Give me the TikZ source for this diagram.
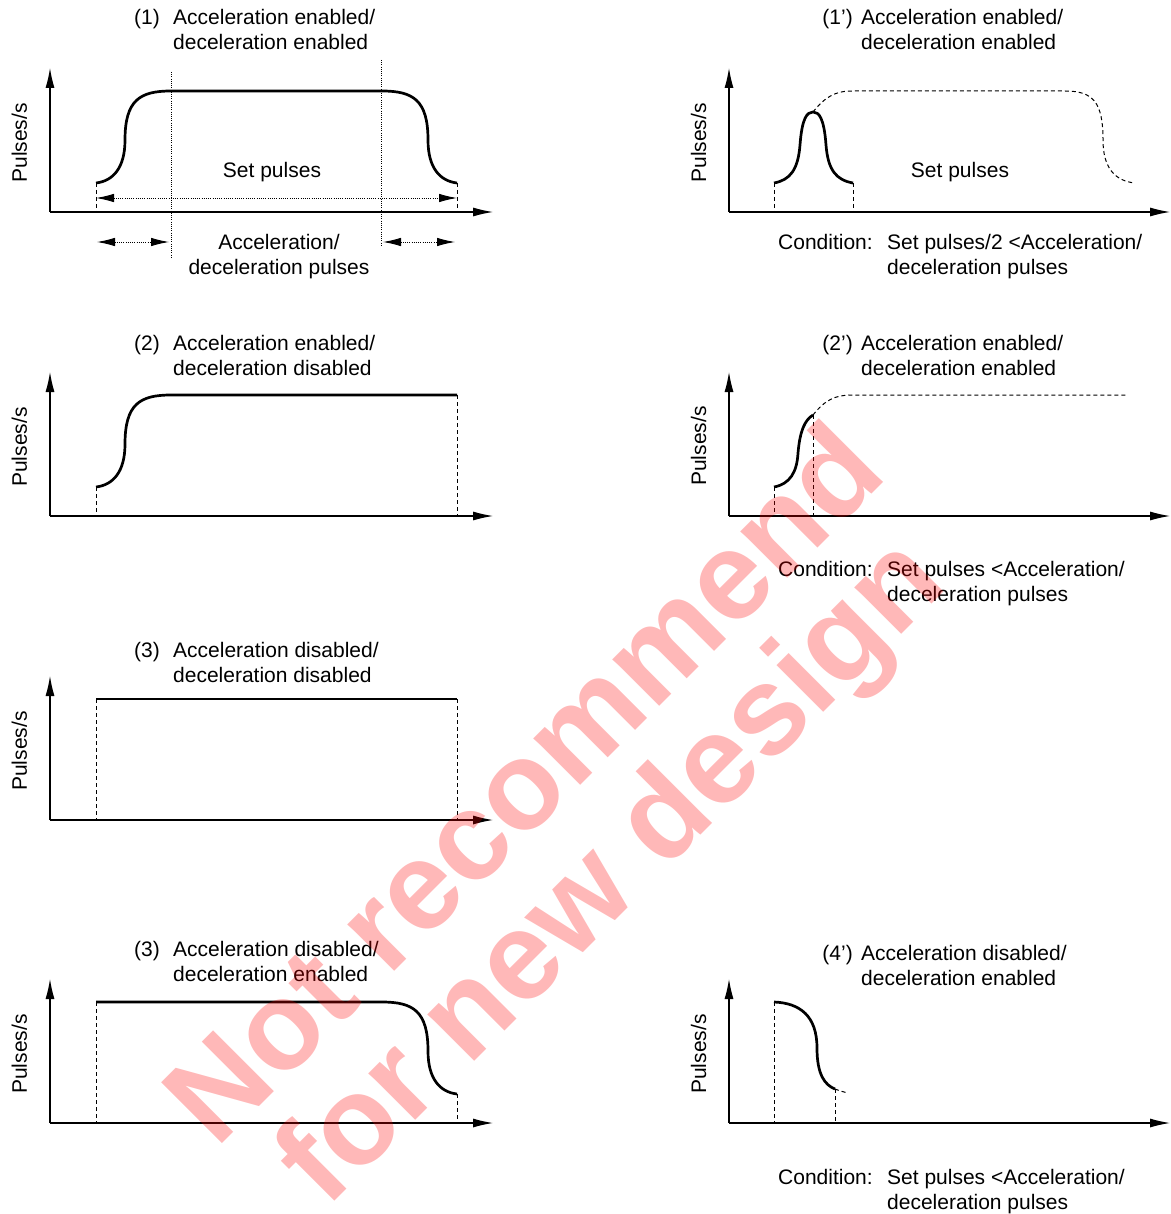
\documentclass[tikz,border=0pt]{standalone}
\usepackage{fontspec}
\setmainfont{Liberation Sans}
\usetikzlibrary{arrows.meta}
\begin{document}
\begin{tikzpicture}[x=1pt,y=-1pt,
  lbl/.style={font=\fontsize{21}{25}\selectfont, inner sep=0pt},
  lw/.style={lbl, anchor=base west},
  le/.style={lbl, anchor=base east},
  lc/.style={lbl, anchor=base},
  ylab/.style={lbl, rotate=90, anchor=base},
  axis/.style={line width=1.1pt, -{Latex[length=20pt,width=9pt]}},
  curve/.style={line width=2.7pt, line join=round},
  dashln/.style={line width=1pt, dash pattern=on 4pt off 3pt},
  dotln/.style={line width=0.9pt, dash pattern=on 1pt off 1.2pt},
  dimarrow/.style={dotln, {Latex[length=18pt,width=8.5pt]}-{Latex[length=18pt,width=8.5pt]}},
  wm/.style={font=\fontsize{125}{125}\selectfont\bfseries, text=red, text opacity=0.28, rotate=45, anchor=base, inner sep=0pt}
]
\useasboundingbox (0,0) rectangle (1170,1214);

% ---------- Panel (1) ----------
\draw[axis] (50,212) -- (50,68);
\draw[axis] (50,212) -- (493,212);
\draw[dotln] (171,72) -- (171,257);
\draw[dotln] (381,60) -- (381,246);
\draw[dashln] (96,183) -- (96,212);
\draw[dashln] (457,183) -- (457,212);
\draw[curve] (96,183) .. controls (113,181) and (125,168) .. (125,140)
  .. controls (125,100) and (140,91) .. (171,91) -- (382,91)
  .. controls (413,91) and (428,100) .. (428,140)
  .. controls (428,168) and (440,181) .. (457,183);
\draw[dimarrow] (96,198) -- (457,198);
\draw[dimarrow] (97,242) -- (169,242);
\draw[dimarrow] (383,242) -- (455,242);
\node[le] (n1) at (160,25) {(1)};
\node[lw] (t1a) at (173,25) {Acceleration enabled/};
\node[lw] (t1b) at (173,50) {deceleration enabled};
\node[ylab] (y1) at (27,143) {Pulses/s};
\node[lc] (sp1) at (272,178) {Set pulses};
\node[lc] (ad1) at (279,250) {Acceleration/};
\node[lc] (ad2) at (279,275) {deceleration pulses};

% ---------- Panel (2) ----------
\draw[axis] (50,516) -- (50,372);
\draw[axis] (50,516) -- (493,516);
\draw[dashln] (96,487) -- (96,516);
\draw[dashln] (457,395) -- (457,516);
\draw[curve] (96,487) .. controls (113,485) and (125,472) .. (125,444)
  .. controls (125,404) and (140,395) .. (171,395) -- (457,395);
\node[le] (n2) at (160,350) {(2)};
\node[lw] (t2a) at (173,350) {Acceleration enabled/};
\node[lw] (t2b) at (173,375) {deceleration disabled};
\node[ylab] (y2) at (27,447) {Pulses/s};

% ---------- Panel (3) ----------
\draw[axis] (50,820) -- (50,676);
\draw[axis] (50,820) -- (493,820);
\draw[dashln] (96,699) -- (96,820);
\draw[dashln] (457,699) -- (457,820);
\draw[curve] (96,699) -- (457,699);
\node[le] (n3) at (160,657) {(3)};
\node[lw] (t3a) at (173,657) {Acceleration disabled/};
\node[lw] (t3b) at (173,682) {deceleration disabled};
\node[ylab] (y3) at (27,751) {Pulses/s};

% ---------- Panel (3) second ----------
\draw[axis] (50,1123) -- (50,979);
\draw[axis] (50,1123) -- (493,1123);
\draw[dashln] (96,1002) -- (96,1123);
\draw[dashln] (457,1094) -- (457,1123);
\draw[curve] (96,1002) -- (382,1002)
  .. controls (413,1002) and (428,1011) .. (428,1051)
  .. controls (428,1079) and (440,1092) .. (457,1094);
\node[le] (n4) at (160,956) {(3)};
\node[lw] (t4a) at (173,956) {Acceleration disabled/};
\node[lw] (t4b) at (173,981) {deceleration enabled};
\node[ylab] (y4) at (27,1054) {Pulses/s};

% ---------- Panel (1') ----------
\draw[axis] (729,212) -- (729,68);
\draw[axis] (729,212) -- (1170,212);
\draw[dashln] (774,183) -- (774,212);
\draw[dashln] (853,183) -- (853,212);
\draw[dashln] (813,112) .. controls (825,97) and (835,91) .. (852,91) -- (1065,91)
  .. controls (1093,91) and (1103,102) .. (1103,140)
  .. controls (1103,168) and (1115,181) .. (1135,183);
\draw[curve] (774,183) .. controls (790,180) and (798,170) .. (800,145)
  .. controls (802,118) and (807,112) .. (813,112)
  .. controls (819,112) and (824,118) .. (826,145)
  .. controls (828,170) and (836,180) .. (853,183);
\node[le] (m1) at (853,25) {(1’)};
\node[lw] (s1a) at (861,25) {Acceleration enabled/};
\node[lw] (s1b) at (861,50) {deceleration enabled};
\node[ylab] (z1) at (706,143) {Pulses/s};
\node[lc] (sp2) at (960,178) {Set pulses};
\node[lw] (c1) at (778,250) {Condition:};
\node[lw] (c1a) at (887,250) {Set pulses/2 <Acceleration/};
\node[lw] (c1b) at (887,275) {deceleration pulses};

% ---------- Panel (2') ----------
\draw[axis] (729,516) -- (729,372);
\draw[axis] (729,516) -- (1170,516);
\draw[dashln] (774,487) -- (774,516);
\draw[dashln] (813,415) -- (813,516);
\draw[dashln] (813,415) .. controls (825,400) and (835,395) .. (852,395) -- (1127,395);
\draw[curve] (774,487) .. controls (790,484) and (797,472) .. (798,453)
  .. controls (800,430) and (805,420) .. (813,415);
\node[le] (m2) at (853,350) {(2’)};
\node[lw] (s2a) at (861,350) {Acceleration enabled/};
\node[lw] (s2b) at (861,375) {deceleration enabled};
\node[ylab] (z2) at (706,446) {Pulses/s};
\node[lw] (c2) at (778,576) {Condition:};
\node[lw] (c2a) at (887,576) {Set pulses <Acceleration/};
\node[lw] (c2b) at (887,601) {deceleration pulses};

% ---------- Panel (4') ----------
\draw[axis] (729,1123) -- (729,979);
\draw[axis] (729,1123) -- (1170,1123);
\draw[dashln] (774,1002) -- (774,1123);
\draw[dashln] (835,1089) -- (835,1123);
\draw[dashln] (835,1089) .. controls (840,1091) and (844,1092) .. (848,1093);
\draw[curve] (774,1002) .. controls (800,1003) and (817,1016) .. (817,1048)
  .. controls (817,1075) and (825,1085) .. (835,1089);
\node[le] (m4) at (853,960) {(4’)};
\node[lw] (s4a) at (861,960) {Acceleration disabled/};
\node[lw] (s4b) at (861,985) {deceleration enabled};
\node[ylab] (z4) at (706,1054) {Pulses/s};
\node[lw] (c4) at (778,1184) {Condition:};
\node[lw] (c4a) at (887,1184) {Set pulses <Acceleration/};
\node[lw] (c4b) at (887,1209) {deceleration pulses};

% ---------- Watermark ----------
\node[wm] (wm1) at (553,813) {Not recommend};
\node[wm] (wm2) at (638,898) {for new design};
\end{tikzpicture}
\end{document}
